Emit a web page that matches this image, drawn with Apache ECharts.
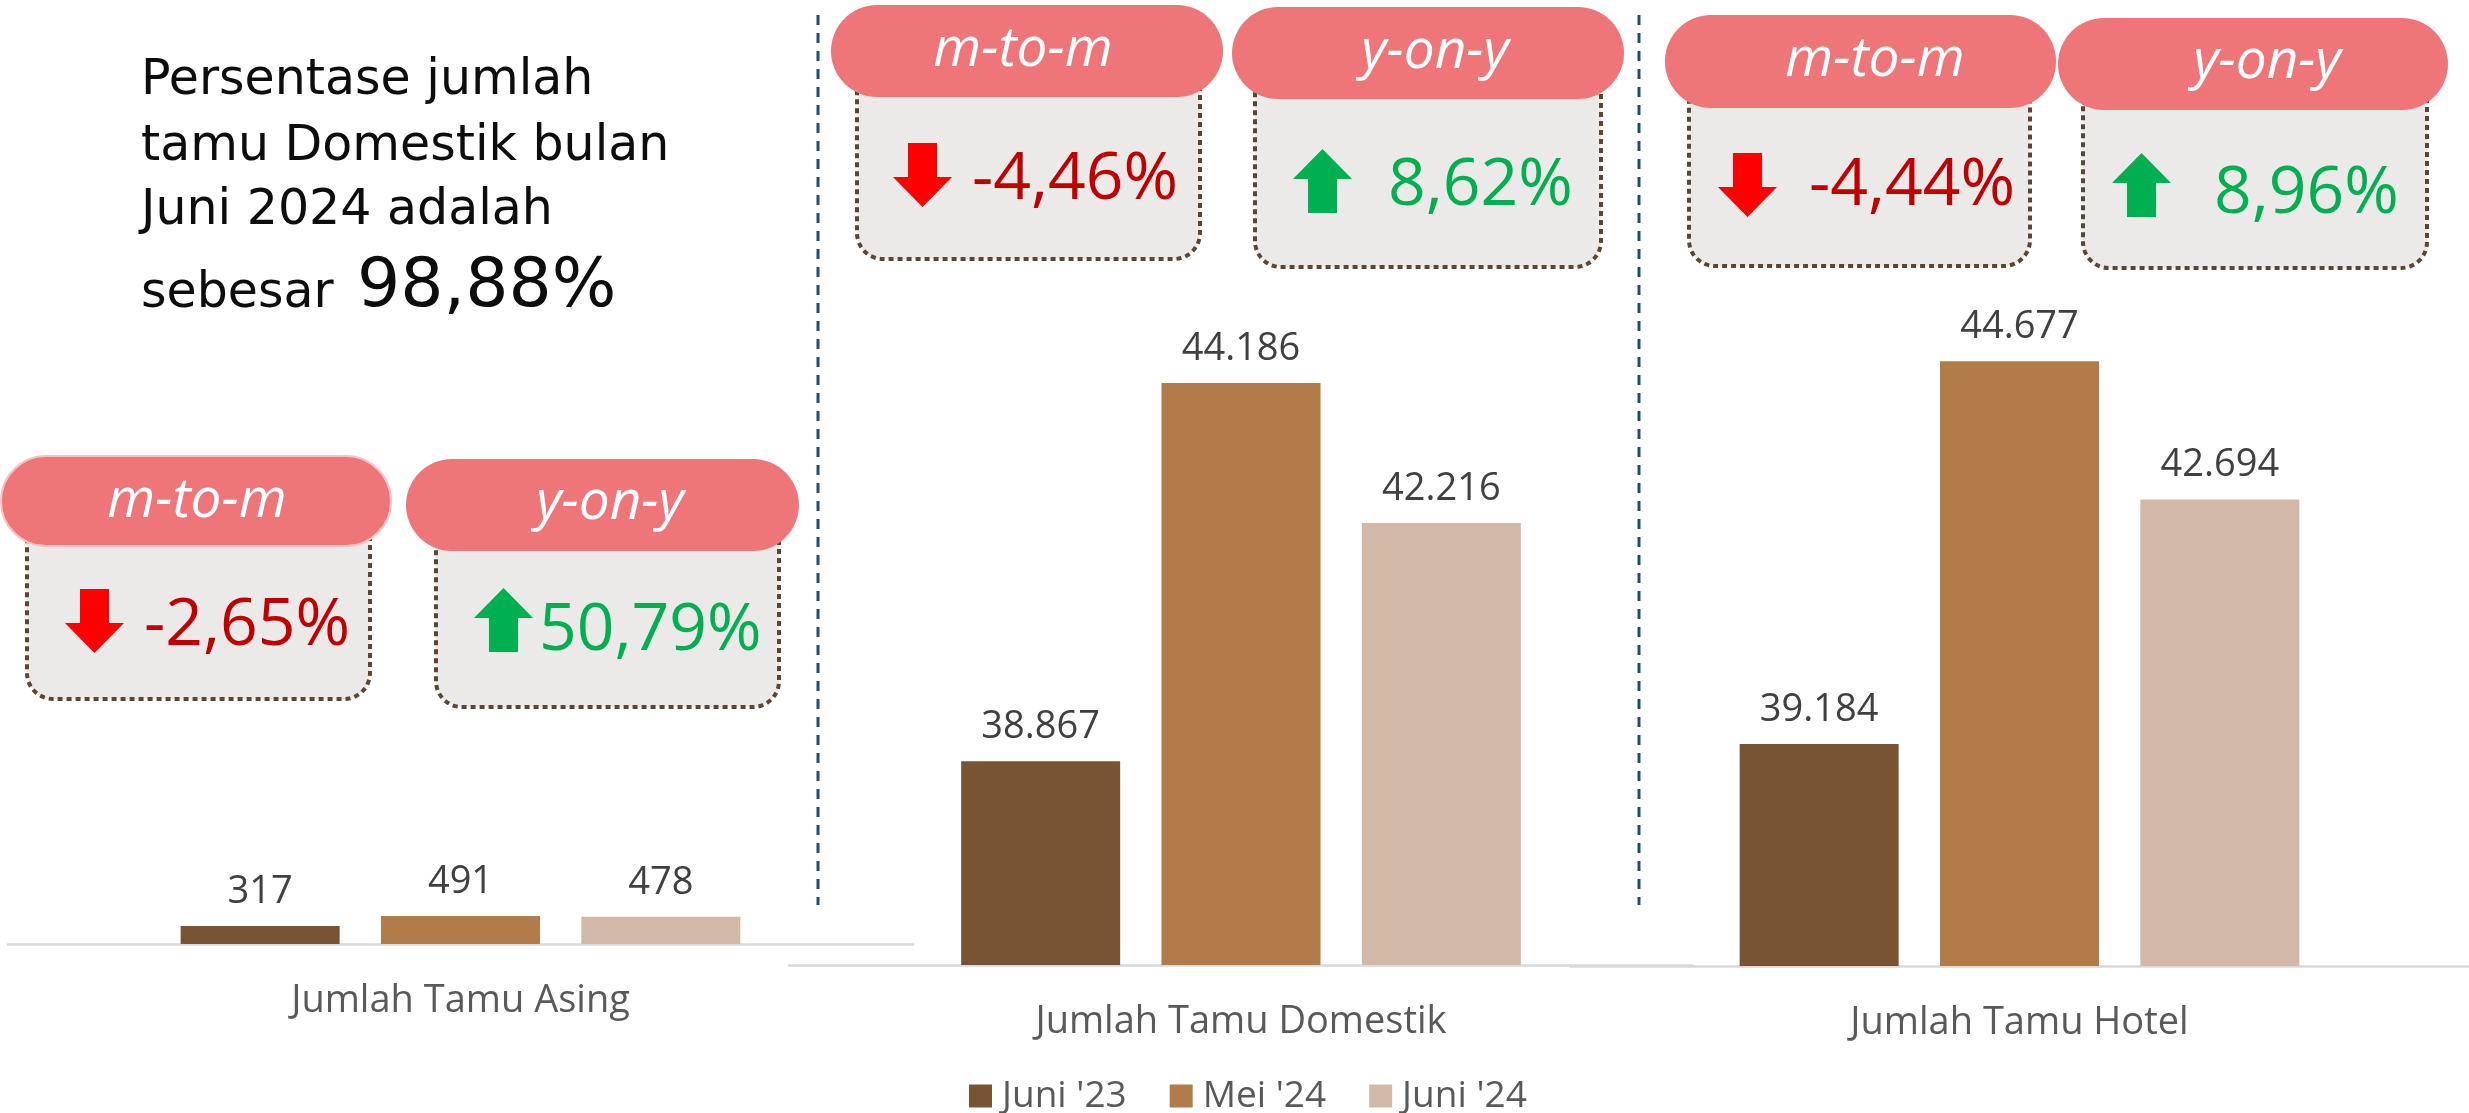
<!DOCTYPE html>
<html>
<head>
<meta charset="utf-8">
<script src="https://cdn.jsdelivr.net/npm/echarts@6/dist/echarts.min.js"></script>
<style>
  html, body { margin: 0; padding: 0; background: #fff; }
  #chart { width: 2469px; height: 1113px; }
</style>
</head>
<body>
<div id="chart"></div>
<script>
// data
const categories = ['Jumlah Tamu Asing', 'Jumlah Tamu Domestik', 'Jumlah Tamu Hotel'];
const periods = ["Juni '23", "Mei '24", "Juni '24"];
const juni23 = [317, 38867, 39184];
const mei24 = [491, 44186, 44677];
const juni24 = [478, 42216, 42694];
const axisMin = [0, 36000, 36000];
const axisMax = [8000, 46000, 46000];
const mtmChange = ['-2,65%', '-4,46%', '-4,44%'];
const yoyChange = ['50,79%', '8,62%', '8,96%'];
const headlineLines = ['Persentase jumlah', 'tamu Domestik bulan', 'Juni 2024 adalah'];
const headlineLead = 'sebesar';
const headlineValue = '98,88%';

const periodValues = [juni23, mei24, juni24];
const barColors = ['#795434', '#B27C4A', '#D2B8A6'];

// one small chart per category
const grids = [
  { left: 8, top: 489, width: 905, height: 455 },
  { left: 789, top: 254, width: 904, height: 711 },
  { left: 1570, top: 269, width: 904, height: 697 }
];

// badge boxes: pill [x, y, w, h], grey box [x, w, bottom], arrow [x, y], value text [x, midY], label [cx, midY]
const badgeLayout = [
  { pill: [1, 456, 390, 90], box: [27, 343, 699], arrow: [65, 589], text: [144, 626], label: [197, 501], outline: true },
  { pill: [406, 459, 393, 92], box: [436, 343, 707], arrow: [474, 588], text: [539, 631], label: [610, 503] },
  { pill: [831, 5, 392, 92], box: [857, 343, 259], arrow: [893, 143], text: [972, 180], label: [1023, 50] },
  { pill: [1232, 7, 392, 92], box: [1255, 346, 267], arrow: [1293, 149], text: [1388, 186], label: [1435, 52] },
  { pill: [1665, 15, 391, 93], box: [1689, 341, 266], arrow: [1718, 153], text: [1809, 186], label: [1875, 60] },
  { pill: [2058, 18, 390, 92], box: [2083, 344, 268], arrow: [2112, 153], text: [2214, 194], label: [2267, 62] }
];

function fmt(v) {
  return String(v).replace(/\B(?=(\d{3})+(?!\d))/g, '.');
}

function arrowPoints(x, y, up) {
  // 59 x 64 block arrow
  const pts = up
    ? [[29.5, 0], [59, 30], [44, 30], [44, 64], [15, 64], [15, 30], [0, 30]]
    : [[15, 0], [44, 0], [44, 34], [59, 34], [29.5, 64], [0, 34], [15, 34]];
  return pts.map(p => [x + p[0], y + p[1]]);
}

const graphics = [];

// separators
[818, 1639].forEach(x => {
  graphics.push({
    type: 'line', silent: true,
    shape: { x1: x, y1: 15, x2: x, y2: 905 },
    style: { stroke: '#1F4E6E', lineWidth: 3, lineDash: [10, 8] }
  });
});

// headline
headlineLines.forEach((t, i) => {
  graphics.push({
    type: 'text', x: 141, y: [81, 147, 211][i],
    style: { text: t, fill: '#0d0d0d', font: '49px "DejaVu Sans"', textVerticalAlign: 'middle', verticalAlign: 'middle' }
  });
});
graphics.push({
  type: 'text', x: 141, y: 294,
  style: { text: headlineLead, fill: '#0d0d0d', font: '49px "DejaVu Sans"', textVerticalAlign: 'middle', verticalAlign: 'middle' }
});
graphics.push({
  type: 'text', x: 357, y: 288,
  style: { text: headlineValue, fill: '#0d0d0d', font: '68px "DejaVu Sans"', textVerticalAlign: 'middle', verticalAlign: 'middle' }
});

// badges
badgeLayout.forEach((b, i) => {
  const chartIdx = Math.floor(i / 2);
  const isYoy = i % 2 === 1;
  const value = isYoy ? yoyChange[chartIdx] : mtmChange[chartIdx];
  const up = value.charAt(0) !== '-';
  const boxTop = b.pill[1] + b.pill[3] / 2;
  graphics.push({
    type: 'rect', silent: true,
    shape: { x: b.box[0], y: boxTop, width: b.box[1], height: b.box[2] - boxTop, r: [0, 0, 26, 26] },
    style: { fill: '#ECEAE8', stroke: '#5B4632', lineWidth: 4, lineDash: [5, 4] }
  });
  graphics.push({
    type: 'rect', silent: true,
    shape: { x: b.pill[0], y: b.pill[1], width: b.pill[2], height: b.pill[3], r: 46 },
    style: { fill: '#EE7578', stroke: b.outline ? '#F6C4C4' : null, lineWidth: b.outline ? 2 : 0 }
  });
  graphics.push({
    type: 'text', x: b.label[0], y: b.label[1],
    style: {
      text: isYoy ? 'y-on-y' : 'm-to-m', fill: '#ffffff', font: 'italic 55px "Open Sans"',
      textAlign: 'center', align: 'center', textVerticalAlign: 'middle', verticalAlign: 'middle'
    }
  });
  graphics.push({
    type: 'polygon', silent: true,
    shape: { points: arrowPoints(b.arrow[0], b.arrow[1], up) },
    style: { fill: up ? '#00B050' : '#FF0000' }
  });
  graphics.push({
    type: 'text', x: b.text[0], y: b.text[1],
    style: {
      text: value, fill: up ? '#00B050' : '#C00000', font: '66px "Open Sans"',
      textVerticalAlign: 'middle', verticalAlign: 'middle'
    }
  });
});

const xAxes = grids.map((g, i) => ({
  type: 'category', gridIndex: i, data: [categories[i]],
  axisLine: { show: true, lineStyle: { color: '#D9D9D9', width: 2.5 } },
  axisTick: { show: false },
  axisLabel: { color: '#595959', fontSize: 38, fontFamily: 'Open Sans', margin: 38 }
}));
const yAxes = grids.map((g, i) => ({
  type: 'value', gridIndex: i, min: axisMin[i], max: axisMax[i], show: false,
  splitLine: { show: false }
}));

const series = [];
grids.forEach((g, i) => {
  periods.forEach((p, k) => {
    series.push({
      type: 'bar', name: p, xAxisIndex: i, yAxisIndex: i,
      data: [periodValues[k][i]],
      barWidth: 159, barGap: '26%',
      itemStyle: { color: barColors[k] },
      label: {
        show: true, position: 'top', distance: 15,
        color: '#404040', fontSize: 38, fontFamily: 'Open Sans',
        formatter: d => fmt(d.value)
      }
    });
  });
});

const chart = echarts.init(document.getElementById('chart'));
chart.setOption({
  animation: false,
  backgroundColor: '#ffffff',
  grid: grids,
  xAxis: xAxes,
  yAxis: yAxes,
  legend: {
    data: periods, left: 964, top: 1071,
    icon: 'rect', itemWidth: 23, itemHeight: 23, itemGap: 43,
    textStyle: { color: '#595959', fontSize: 37, lineHeight: 40, fontFamily: 'Open Sans', padding: [0, 0, 0, 5] }
  },
  graphic: graphics,
  series: series
});
</script>
</body>
</html>
